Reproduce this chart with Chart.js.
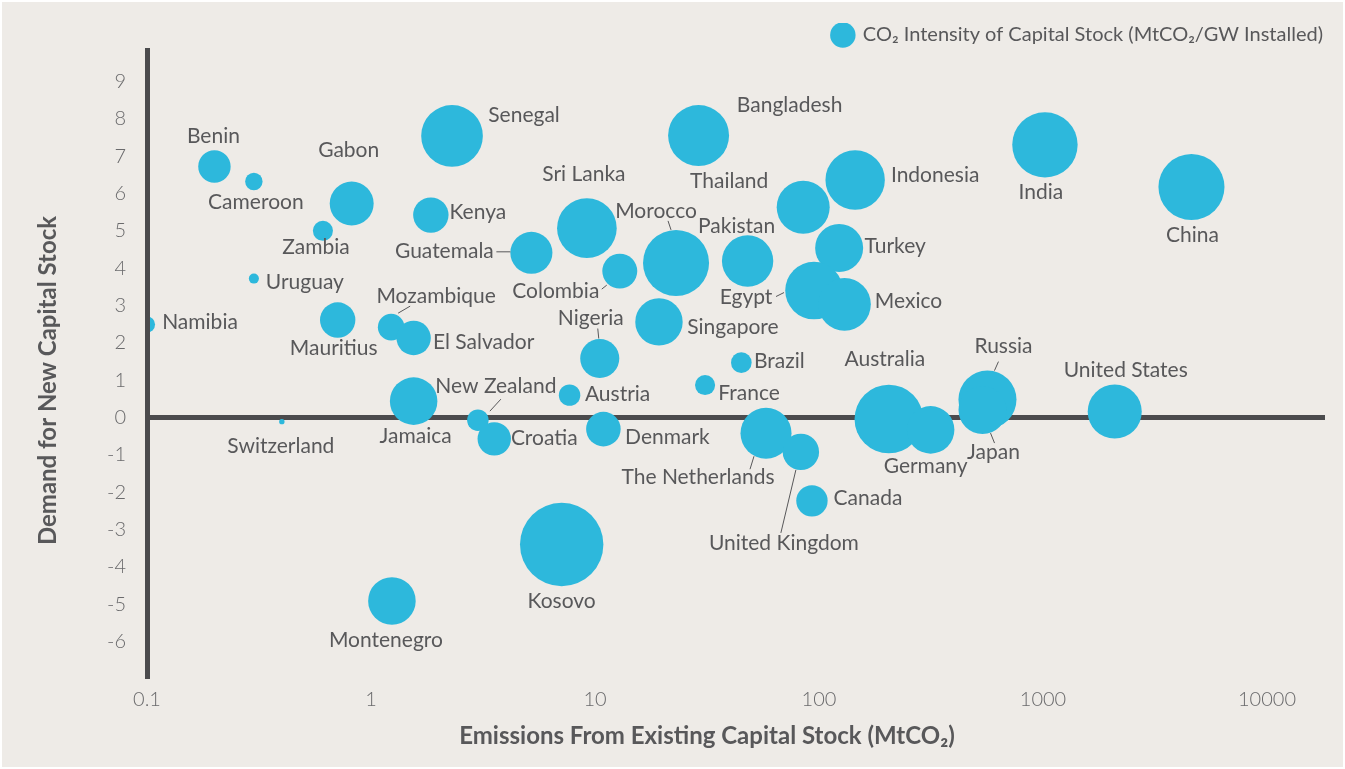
<!DOCTYPE html>
<html lang="en">
<head>
<meta charset="UTF-8">
<title>Emissions from existing capital stock vs demand for new capital stock</title>
<script src="https://cdn.jsdelivr.net/npm/chart.js"></script>
<style>
  html, body { margin: 0; padding: 0; background: #ffffff; }
  canvas { display: block; }
</style>
</head>
<body>
<canvas id="stockChart" width="1345" height="769"></canvas>
<script>
// one entry per country
var countries = ['Benin', 'Cameroon', 'Gabon', 'Zambia', 'Kenya', 'Senegal', 'Bangladesh', 'Indonesia',
  'Thailand', 'Sri Lanka', 'Morocco', 'Pakistan', 'Turkey', 'Guatemala', 'Colombia', 'India', 'China',
  'Uruguay', 'Namibia', 'Mauritius', 'Mozambique', 'El Salvador', 'Jamaica', 'Switzerland', 'Nigeria',
  'Singapore', 'Egypt', 'Mexico', 'Brazil', 'France', 'Austria', 'New Zealand', 'Croatia', 'Denmark',
  'The Netherlands', 'United Kingdom', 'Canada', 'Australia', 'Germany', 'Russia', 'Japan',
  'United States', 'Montenegro', 'Kosovo'];

// emissions from existing capital stock (MtCO2)
var emissions = [0.2, 0.3, 0.82, 0.61, 1.85, 2.3, 29, 145, 85, 9.2, 23, 48, 123, 5.2, 12.9, 1020, 4600,
  0.3, 0.1, 0.71, 1.23, 1.55, 1.55, 0.4, 10.5, 19.3, 95, 130, 45, 31, 7.7, 3.0, 3.55, 10.9, 58, 83, 93,
  205, 315, 565, 537, 2090, 1.24, 7.1];

// demand for new capital stock
var demand = [6.72, 6.32, 5.73, 5.0, 5.42, 7.54, 7.55, 6.36, 5.63, 5.07, 4.14, 4.19, 4.54, 4.41, 3.92,
  7.3, 6.17, 3.72, 2.49, 2.61, 2.42, 2.13, 0.44, -0.11, 1.58, 2.56, 3.4, 3.03, 1.47, 0.87, 0.6, -0.07,
  -0.57, -0.31, -0.42, -0.92, -2.23, -0.04, -0.33, 0.48, 0.2, 0.16, -4.91, -3.4];

// CO2 intensity of capital stock (MtCO2/GW installed) -> bubble area
var intensity = [7.3, 2.1, 13.4, 2.8, 8.7, 26.4, 25.8, 24.5, 19.5, 24.7, 30.3, 18.3, 16.0, 12.3, 8.5,
  29.7, 30.3, 0.7, 1.8, 8.7, 4.9, 8.2, 15.7, 0.2, 10.6, 15.6, 23.0, 19.2, 2.95, 2.8, 3.2, 3.2, 7.75,
  8.3, 18.1, 9.2, 6.85, 32.7, 15.7, 23.4, 16.0, 20.3, 15.7, 48.3];

var xTicks = [0.1, 1, 10, 100, 1000, 10000];
var yTicks = [-6, -5, -4, -3, -2, -1, 0, 1, 2, 3, 4, 5, 6, 7, 8, 9];

var xTitle = 'Emissions From Existing Capital Stock (MtCO\u2082)';
var yTitle = 'Demand for New Capital Stock';

// where each name sits relative to its bubble (px)
var labelOffsets = {
  'Benin': [-1, -29], 'Cameroon': [2, 22], 'Gabon': [-3, -52], 'Zambia': [-7, 17], 'Kenya': [47, -2],
  'Senegal': [72, -20], 'Bangladesh': [91, -29], 'Indonesia': [80, -4], 'Thailand': [-74, -25],
  'Sri Lanka': [-3, -53], 'Morocco': [-20, -51], 'Pakistan': [-11, -34], 'Turkey': [56, -1],
  'Guatemala': [-87, -1], 'Colombia': [-64, 21], 'India': [-4, 48], 'China': [1, 49],
  'Uruguay': [51, 5], 'Namibia': [53, -1], 'Mauritius': [-4, 29], 'Mozambique': [45, -30],
  'El Salvador': [70, 5], 'Jamaica': [2, 36], 'Switzerland': [-1, 26], 'Nigeria': [-9, -39],
  'Singapore': [74, 6], 'Egypt': [-68, 8], 'Mexico': [64, -2], 'Brazil': [38, 0], 'France': [44, 9],
  'Austria': [48, 0], 'New Zealand': [18, -33], 'Croatia': [50, 0], 'Denmark': [64, 9],
  'The Netherlands': [-68, 45], 'United Kingdom': [-17, 92], 'Canada': [56, -2],
  'Australia': [-4, -59], 'Germany': [-5, 37], 'Russia': [16, -52], 'Japan': [11, 43],
  'United States': [11, -40], 'Montenegro': [-6, 40], 'Kosovo': [0, 58]
};

// short leader lines for crowded names: x1, y1, x2, y2 relative to the bubble
var leaderLines = {
  'Morocco': [-8, -42, -5, -33], 'Guatemala': [-35, -1, -21, -1], 'Mozambique': [7, -14, 19, -21],
  'New Zealand': [12, -9, 23, -21], 'Colombia': [-18, 18, -13, 14], 'Nigeria': [-2, -30, -1, -20],
  'Egypt': [-38, 6, -30, 2], 'The Netherlands': [-12, 23, -16, 36], 'United Kingdom': [-5, 18, -20, 81],
  'Russia': [11, -38, 7, -29], 'Japan': [8, 23, 12, 33]
};

var bubbleBlue = '#2db8dc';
var axisGrey = '#4b4b4d';
var textGrey = '#58585a';
var fontFamily = 'Lato, "Open Sans", sans-serif';

// beige panel with a thin white frame
var backdrop = {
  id: 'backdrop',
  beforeDraw: function (chart) {
    var c = chart.ctx;
    c.save();
    c.fillStyle = '#eeebe7';
    c.fillRect(2, 2, chart.width - 4, chart.height - 4);
    c.restore();
  }
};

// legend box is a bit taller than needed, pull the plot up under it
var legendFit = {
  id: 'legendFit',
  beforeInit: function (chart) {
    var fit = chart.legend.fit;
    chart.legend.fit = function () {
      fit.call(this);
      this.height -= 5;
    };
  }
};

// country names next to the bubbles
var countryLabels = {
  id: 'countryLabels',
  afterDatasetsDraw: function (chart) {
    var c = chart.ctx;
    var meta = chart.getDatasetMeta(0);
    c.save();
    c.font = '21px ' + fontFamily;
    c.fillStyle = textGrey;
    c.strokeStyle = textGrey;
    c.lineWidth = 1;
    c.textAlign = 'center';
    c.textBaseline = 'middle';
    meta.data.forEach(function (pt, i) {
      var name = countries[i];
      var off = labelOffsets[name] || [0, -20];
      var lead = leaderLines[name];
      if (lead) {
        c.beginPath();
        c.moveTo(pt.x + lead[0], pt.y + lead[1]);
        c.lineTo(pt.x + lead[2], pt.y + lead[3]);
        c.stroke();
      }
      c.fillText(name, pt.x + off[0], pt.y + off[1] - 1);
    });
    c.restore();
  }
};

// axis titles, set a little off the plot centre
var axisTitles = {
  id: 'axisTitles',
  afterDraw: function (chart) {
    var c = chart.ctx;
    var area = chart.chartArea;
    c.save();
    c.font = 'bold 24px ' + fontFamily;
    c.fillStyle = textGrey;
    c.textAlign = 'center';
    c.textBaseline = 'middle';
    c.fillText(xTitle, (area.left + area.right) / 2 - 29, chart.height - 33);
    c.translate(48, (area.top + area.bottom) / 2 + 16);
    c.rotate(-Math.PI / 2);
    c.fillText(yTitle, 0, 0);
    c.restore();
  }
};

var points = countries.map(function (name, i) {
  return { x: emissions[i], y: demand[i], r: Math.sqrt(intensity[i]) * 6 };
});

new Chart(document.getElementById('stockChart'), {
  type: 'bubble',
  data: {
    datasets: [{
      label: 'CO\u2082 Intensity of Capital Stock (MtCO\u2082/GW Installed)',
      data: points,
      backgroundColor: bubbleBlue,
      hoverBackgroundColor: bubbleBlue,
      borderWidth: 0,
      hoverBorderWidth: 0,
      clip: { left: 0, top: false, right: false, bottom: false }
    }]
  },
  options: {
    responsive: false,
    animation: false,
    events: [],
    layout: { autoPadding: false, padding: { top: 23, right: 20, left: 0, bottom: 0 } },
    plugins: {
      tooltip: { enabled: false },
      legend: {
        position: 'top',
        align: 'end',
        labels: {
          usePointStyle: true,
          pointStyle: 'circle',
          boxHeight: 18,
          padding: 2,
          color: textGrey,
          font: { family: fontFamily, size: 20 }
        }
      }
    },
    scales: {
      x: {
        type: 'logarithmic',
        position: 'bottom',
        min: 0.1,
        max: 18150,
        afterBuildTicks: function (scale) {
          scale.ticks = xTicks.map(function (v) { return { value: v }; });
        },
        afterFit: function (scale) { scale.height = 90; },
        grid: { display: false, drawTicks: false },
        border: { display: false },
        ticks: {
          padding: 9,
          color: '#6a6a6c',
          font: { family: fontFamily, size: 20, weight: '300' },
          callback: function (v) { return String(v); }
        }
      },
      y: {
        type: 'linear',
        min: -7,
        max: 9.84,
        afterBuildTicks: function (scale) {
          scale.ticks = yTicks.map(function (v) { return { value: v }; });
        },
        afterFit: function (scale) { scale.width = 147; },
        grid: {
          drawTicks: false,
          color: function (ctx) { return ctx.tick && ctx.tick.value === 0 ? axisGrey : 'rgba(0,0,0,0)'; },
          lineWidth: function (ctx) { return ctx.tick && ctx.tick.value === 0 ? 5 : 0; }
        },
        border: { display: true, color: axisGrey, width: 5, z: 1 },
        ticks: {
          padding: 21,
          color: '#6a6a6c',
          font: { family: fontFamily, size: 20, weight: '300' }
        }
      }
    }
  },
  plugins: [backdrop, legendFit, countryLabels, axisTitles]
});
</script>
</body>
</html>
